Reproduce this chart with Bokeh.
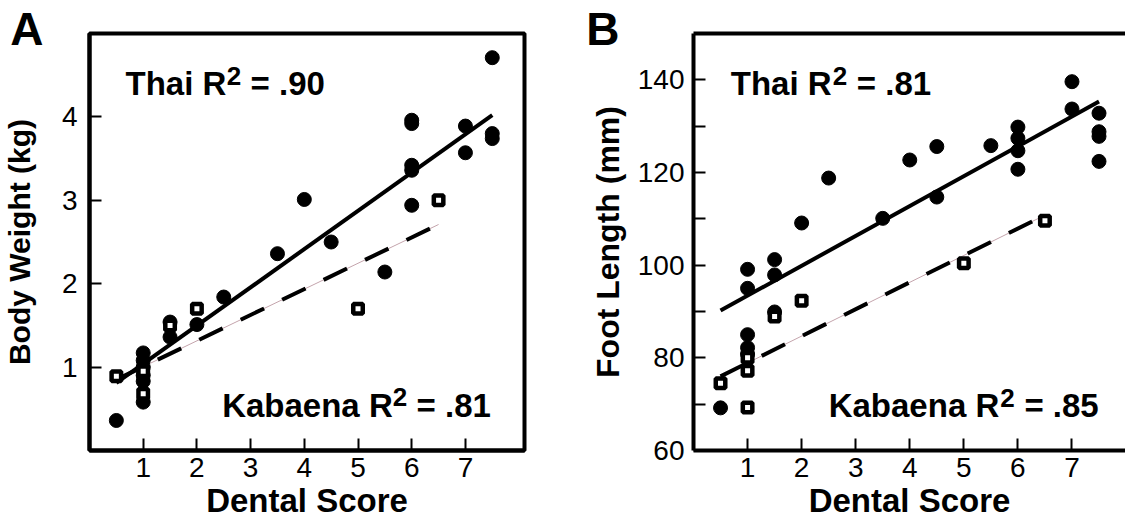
from bokeh.plotting import figure
from bokeh.layouts import row
from bokeh.models import Label, LinearAxis, FixedTicker, Range1d
from bokeh.embed import file_html
from bokeh.resources import INLINE

# ---------------- data ----------------
dental_ticks = [1, 2, 3, 4, 5, 6, 7]
weight_ticks = [1, 2, 3, 4]
foot_ticks = [60, 70, 80, 90, 100, 110, 120, 130, 140]
foot_hidden_ticks = [70, 90, 110, 130]

# Panel A: body weight (kg)
thai_weight_x = [0.5, 1, 1, 1, 1, 1, 1, 1.5, 1.5, 2, 2.5, 3.5, 4, 4.5, 5.5,
                 6, 6, 6, 6, 6, 7, 7, 7.5, 7.5, 7.5]
thai_weight_y = [0.36, 1.17, 1.08, 1.00, 0.90, 0.83, 0.58, 1.54, 1.36, 1.51, 1.84, 2.36, 3.01, 2.50, 2.14,
                 3.96, 3.92, 3.42, 3.36, 2.94, 3.89, 3.57, 4.71, 3.80, 3.74]
kab_weight_x = [0.5, 1, 1, 1.5, 2, 5, 6.5]
kab_weight_y = [0.89, 0.95, 0.68, 1.50, 1.70, 1.70, 3.00]
thai_weight_fit_x = [0.5, 7.5]
thai_weight_fit_y = [0.81, 4.02]
kab_weight_fit_x = [0.5, 6.5]
kab_weight_fit_y = [0.85, 2.71]

# Panel B: foot length (mm)
thai_foot_x = [0.5, 1, 1, 1, 1, 1, 1.5, 1.5, 1.5, 2, 2.5, 3.5, 4, 4.5, 4.5, 5.5,
               6, 6, 6, 6, 7, 7, 7.5, 7.5, 7.5, 7.5]
thai_foot_y = [69.2, 99.1, 95.0, 85.0, 82.2, 80.8, 101.2, 97.9, 89.9, 109.1, 118.8, 110.1, 122.7, 125.6, 114.7, 125.8,
               129.8, 127.4, 124.7, 120.7, 139.6, 133.7, 132.8, 128.8, 127.8, 122.4]
kab_foot_x = [0.5, 1, 1, 1, 1.5, 2, 5, 6.5]
kab_foot_y = [74.5, 80.0, 77.2, 69.3, 88.9, 92.3, 100.4, 109.6]
thai_foot_fit_x = [0.5, 7.5]
thai_foot_fit_y = [90.2, 135.3]
kab_foot_fit_x = [0.5, 6.5]
kab_foot_fit_y = [76.0, 110.8]

FONT = "Liberation Sans"


def txt(p, x, y, text, size, y_offset=0):
    p.add_layout(Label(x=x, y=y, text=text, text_font=FONT,
                       text_font_size=f"{size}px", text_font_style="bold",
                       text_align="left", text_baseline="alphabetic",
                       y_offset=y_offset, text_color="black"))


def r2(p, x_main, x_sup, x_rest, y, main, rest):
    txt(p, x_main, y, main, 33)
    txt(p, x_sup, y, "2", 26, y_offset=8)
    txt(p, x_rest, y, rest, 33)


def style_axes(p, xticks, yticks, y_standoff):
    p.grid.visible = False
    p.background_fill_color = "white"
    p.border_fill_color = "white"
    p.xaxis.ticker = FixedTicker(ticks=xticks)
    p.yaxis.ticker = FixedTicker(ticks=yticks)
    for ax in (p.xaxis, p.yaxis):
        ax.axis_line_width = 4
        ax.axis_line_color = "black"
        ax.major_tick_in = 12
        ax.major_tick_out = 0
        ax.major_tick_line_width = 2
        ax.major_tick_line_color = "black"
        ax.minor_tick_line_color = None
        ax.major_label_text_font = FONT
        ax.major_label_text_font_size = "28px"
        ax.major_label_text_color = "black"
    p.xaxis.major_label_standoff = 7
    p.yaxis.major_label_standoff = y_standoff
    p.xaxis.axis_label = "Dental Score"
    p.xaxis.axis_label_text_font = FONT
    p.xaxis.axis_label_text_font_size = "33px"
    p.xaxis.axis_label_text_font_style = "bold"
    p.xaxis.axis_label_text_color = "black"
    p.xaxis.axis_label_standoff = 2


def panel_letter_axis(p, top_value, letter, ylabel, label_size, label_standoff):
    # outer left axis: carries the panel letter (at the top) and the y-axis title
    ax = LinearAxis(ticker=FixedTicker(ticks=[top_value]),
                    major_label_overrides={top_value: letter + "\n "},
                    axis_line_color=None, major_tick_line_color=None, minor_tick_line_color=None,
                    major_tick_in=0, major_tick_out=0, major_label_standoff=15,
                    major_label_text_font=FONT, major_label_text_font_size="46px",
                    major_label_text_font_style="bold", major_label_text_color="black",
                    major_label_text_line_height=0.35,
                    axis_label=ylabel, axis_label_text_font=FONT,
                    axis_label_text_font_size=f"{label_size}px",
                    axis_label_text_font_style="bold", axis_label_text_color="black",
                    axis_label_standoff=label_standoff)
    p.add_layout(ax, "left")


def draw_series(p, tx, ty, kx, ky, tfx, tfy, kfx, kfy):
    p.line(kfx, kfy, line_color="#c4a4ac", line_width=1)
    p.line(kfx, kfy, line_color="black", line_width=4, line_dash="26 20")
    p.line(tfx, tfy, line_color="black", line_width=4)
    p.scatter(tx, ty, marker="circle", size=14, fill_color="black", line_color="black")
    p.scatter(kx, ky, marker="square", size=9.5, fill_color="white", line_color="black", line_width=4.5)


# ---------------- Panel A ----------------
pA = figure(width=560, height=521, x_range=Range1d(0, 8.1), y_range=Range1d(0, 5),
            output_backend="svg", toolbar_location=None,
            min_border_left=86, min_border_right=36, min_border_top=33, min_border_bottom=71)
pA.outline_line_color = "black"
pA.outline_line_width = 4
style_axes(pA, dental_ticks, weight_ticks, 12)
panel_letter_axis(pA, 5, "A", "Body Weight (kg)", 30, -29)
draw_series(pA, thai_weight_x, thai_weight_y, kab_weight_x, kab_weight_y,
            thai_weight_fit_x, thai_weight_fit_y, kab_weight_fit_x, kab_weight_fit_y)
r2(pA, 0.67, 2.555, 3.00, 4.40, "Thai R", "= .90")
r2(pA, 2.47, 5.645, 6.09, 0.54, "Kabaena R", "= .81")

# ---------------- Panel B ----------------
pB = figure(width=565, height=521, x_range=Range1d(0, 7.99), y_range=Range1d(60, 150),
            output_backend="svg", toolbar_location=None,
            min_border_left=133, min_border_right=0, min_border_top=33, min_border_bottom=71)
pB.outline_line_color = None
style_axes(pB, dental_ticks, foot_ticks, 9)
pB.yaxis.major_label_overrides = {t: "" for t in foot_hidden_ticks}
top_axis = LinearAxis(ticker=FixedTicker(ticks=[]), axis_line_width=4, axis_line_color="black",
                      major_tick_line_color=None, minor_tick_line_color=None,
                      major_label_text_font_size="0px")
pB.add_layout(top_axis, "above")
panel_letter_axis(pB, 150, "B", "Foot Length (mm)", 32, -43)
draw_series(pB, thai_foot_x, thai_foot_y, kab_foot_x, kab_foot_y,
            thai_foot_fit_x, thai_foot_fit_y, kab_foot_fit_x, kab_foot_fit_y)
r2(pB, 0.69, 2.575, 3.02, 139.2, "Thai R", "= .81")
r2(pB, 2.50, 5.675, 6.12, 69.7, "Kabaena R", "= .85")

layout = row(pA, pB)
open("out.html", "w").write(file_html(layout, INLINE))
